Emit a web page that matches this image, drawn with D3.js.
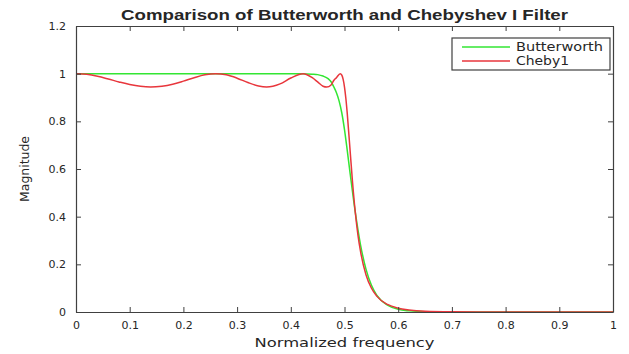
<!DOCTYPE html>
<html>
<head>
<meta charset="utf-8">
<script src="https://cdn.jsdelivr.net/npm/d3@7"></script>
<style>
  body { margin: 0; background: #ffffff; }
  text { font-family: "DejaVu Sans", "Liberation Sans", sans-serif; fill: #262626; }
</style>
</head>
<body>
<div id="chart"></div>
<script>
/////////////////////////////////////////////////////////////
/////////////// Data //////////////////
/////////////////////////////////////////////////////////////

var seriesNames = ["Butterworth", "Cheby1"];

var butterFreq = [0, 0.40, 0.42, 0.44, 0.45, 0.46, 0.47, 0.475, 0.48, 0.485, 0.49, 0.495, 0.50,
  0.505, 0.51, 0.52, 0.53, 0.54, 0.55, 0.56, 0.58, 0.60, 0.62, 0.65, 0.70, 0.80, 1.0];
var butterMag = [1, 1, 0.9998, 0.998, 0.996, 0.99, 0.978, 0.966, 0.945, 0.92, 0.885, 0.835, 0.765,
  0.68, 0.59, 0.42, 0.28, 0.18, 0.113, 0.071, 0.029, 0.0115, 0.0048, 0.001, 0.0001, 0, 0];

var chebyFreq = [0, 0.02, 0.04, 0.06, 0.08, 0.10, 0.12, 0.139, 0.16, 0.18, 0.20, 0.22, 0.24, 0.26,
  0.28, 0.30, 0.32, 0.34, 0.355, 0.38, 0.40, 0.423, 0.44, 0.45, 0.46, 0.467, 0.475, 0.48, 0.485,
  0.492, 0.495, 0.4975, 0.50, 0.5025, 0.505, 0.51, 0.515, 0.52, 0.525, 0.53, 0.54, 0.55, 0.56,
  0.58, 0.60, 0.62, 0.65, 0.70, 0.75, 0.80, 1.0];
var chebyMag = [1, 0.9971, 0.9891, 0.9777, 0.9653, 0.9542, 0.9467, 0.9439, 0.9473, 0.9557, 0.9686,
  0.9830, 0.9950, 1, 0.9951, 0.9811, 0.9628, 0.9481, 0.9439, 0.9570, 0.9816, 1, 0.9832, 0.9654,
  0.9472, 0.9439, 0.9525, 0.9714, 0.9832, 1, 0.9935, 0.9759, 0.9439, 0.8969, 0.8365, 0.690, 0.5435,
  0.420, 0.324, 0.252, 0.1565, 0.1006, 0.0667, 0.0316, 0.0158, 0.0085, 0.0032, 0.0007, 0.0001, 0, 0];

var xTicks = [0, 0.1, 0.2, 0.3, 0.4, 0.5, 0.6, 0.7, 0.8, 0.9, 1];
var yTicks = [0, 0.2, 0.4, 0.6, 0.8, 1, 1.2];

var seriesColors = ["#33e633", "#e8363c"];

/////////////////////////////////////////////////////////////
/////////////// Chart //////////////////////////////////////
/////////////////////////////////////////////////////////////

var margin = { top: 26, right: 16, bottom: 42, left: 76 },
  width = 629 - margin.left - margin.right,
  height = 354 - margin.top - margin.bottom;

var svg = d3.select("#chart")
  .append("svg")
  .attr("width", 629)
  .attr("height", 354)
  .append("g")
  .attr("transform", "translate(" + margin.left + "," + margin.top + ")");

var x = d3.scaleLinear().domain([0, 1]).range([0, width]);
var y = d3.scaleLinear().domain([0, 1.2]).range([height, 0]);

// curves first, box on top like matlab
var line = d3.line()
  .x(d => x(d[0]))
  .y(d => y(d[1]))
  .curve(d3.curveMonotoneX);

var butterData = butterFreq.map((f, i) => [f, butterMag[i]]);
var chebyData = chebyFreq.map((f, i) => [f, chebyMag[i]]);

[butterData, chebyData].forEach(function (data, i) {
  svg.append("path")
    .datum(data)
    .attr("fill", "none")
    .attr("stroke", seriesColors[i])
    .attr("stroke-width", 1.5)
    .attr("d", line);
});

// axes: ticks pointing inward, on all four sides
var axisColor = "#404040";

var bottomAxis = svg.append("g")
  .attr("transform", "translate(0," + height + ")")
  .call(d3.axisBottom(x).tickValues(xTicks).tickSizeInner(-5).tickSizeOuter(0).tickPadding(9)
    .tickFormat(d3.format("")));
var topAxis = svg.append("g")
  .call(d3.axisTop(x).tickValues(xTicks).tickSizeInner(-5).tickSizeOuter(0).tickFormat(""));
var leftAxis = svg.append("g")
  .call(d3.axisLeft(y).tickValues(yTicks).tickSizeInner(-5).tickSizeOuter(0).tickPadding(10)
    .tickFormat(d3.format("")));
var rightAxis = svg.append("g")
  .attr("transform", "translate(" + width + ",0)")
  .call(d3.axisRight(y).tickValues(yTicks).tickSizeInner(-5).tickSizeOuter(0).tickFormat(""));

[bottomAxis, topAxis, leftAxis, rightAxis].forEach(function (g) {
  g.select(".domain").attr("stroke", axisColor).attr("stroke-width", 1.2);
  g.selectAll(".tick line").attr("stroke", axisColor);
  g.selectAll(".tick text")
    .style("font-family", "'DejaVu Sans', sans-serif")
    .style("font-size", "11px")
    .attr("fill", "#262626");
});

// title
svg.append("text")
  .attr("x", width / 2)
  .attr("y", -6)
  .attr("text-anchor", "middle")
  .style("font-family", "'Liberation Sans', Arial, sans-serif")
  .style("font-size", "15px")
  .style("font-weight", "bold")
  .attr("textLength", 447)
  .attr("lengthAdjust", "spacingAndGlyphs")
  .text("Comparison of Butterworth and Chebyshev I Filter");

// axis labels
svg.append("text")
  .attr("x", width / 2)
  .attr("y", height + 35)
  .attr("text-anchor", "middle")
  .style("font-size", "13px")
  .attr("textLength", 180)
  .attr("lengthAdjust", "spacingAndGlyphs")
  .text("Normalized frequency");

svg.append("text")
  .attr("transform", "translate(" + (-47) + "," + (height / 2) + ")rotate(-90)")
  .attr("text-anchor", "middle")
  .style("font-size", "12px")
  .attr("textLength", 66)
  .attr("lengthAdjust", "spacingAndGlyphs")
  .text("Magnitude");

/////////////////////////////////////////////////////////////
/////////////// Legend /////////////////////////////////////
/////////////////////////////////////////////////////////////

var legendBox = { xPos: 452 - margin.left, yPos: 38 - margin.top, width: 158, height: 32 };

svg.append("rect")
  .attr("x", legendBox.xPos)
  .attr("y", legendBox.yPos)
  .attr("width", legendBox.width)
  .attr("height", legendBox.height)
  .attr("fill", "#ffffff")
  .attr("stroke", axisColor)
  .attr("stroke-width", 1.2);

var legendRows = svg.selectAll(".legendRow")
  .data(seriesNames).enter().append("g")
  .attr("transform", (d, i) => "translate(" + legendBox.xPos + "," + (legendBox.yPos + 9 + i * 14) + ")");

legendRows.append("line")
  .attr("x1", 10).attr("x2", 58)
  .attr("stroke", (d, i) => seriesColors[i])
  .attr("stroke-width", 1.5);

legendRows.append("text")
  .attr("x", 64)
  .attr("y", 4)
  .style("font-size", "12px")
  .attr("textLength", (d, i) => i == 0 ? 87 : 53)
  .attr("lengthAdjust", "spacingAndGlyphs")
  .text(d => d);
</script>
</body>
</html>
